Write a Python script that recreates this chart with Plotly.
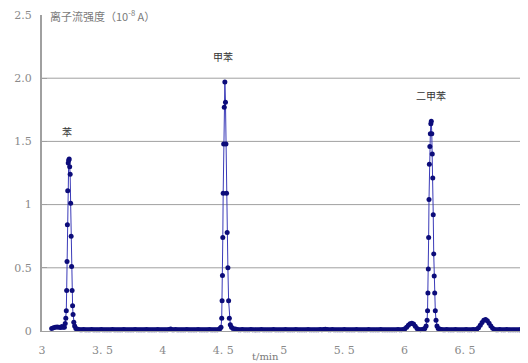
import numpy as np
import plotly.graph_objects as go

# ---- data ----
pre_t = [3.080, 3.095, 3.110, 3.125, 3.140, 3.155, 3.165, 3.175, 3.185]
pre_y = [0.020, 0.025, 0.030, 0.032, 0.030, 0.028, 0.035, 0.030, 0.030]

benz_t = [3.192, 3.197, 3.201, 3.204, 3.207, 3.210, 3.213, 3.217, 3.221, 3.225,
          3.229, 3.233, 3.237, 3.241, 3.245, 3.249, 3.253, 3.257, 3.263, 3.270, 3.280]
benz_y = [0.06, 0.10, 0.16, 0.32, 0.55, 0.84, 1.11, 1.33, 1.35, 1.36,
          1.30, 1.24, 1.01, 0.75, 0.51, 0.32, 0.20, 0.13, 0.07, 0.04, 0.02]

base1_y = [0.015, 0.012, 0.010, 0.010, 0.011, 0.010, 0.009, 0.010, 0.010, 0.011,
           0.010, 0.010, 0.009, 0.010, 0.010, 0.011, 0.010, 0.010, 0.010, 0.009,
           0.010, 0.010, 0.011, 0.010, 0.010, 0.010, 0.009, 0.010, 0.010, 0.011,
           0.010, 0.010, 0.010, 0.009, 0.010, 0.010, 0.011, 0.010, 0.010, 0.010,
           0.009, 0.010, 0.010, 0.011, 0.010, 0.010, 0.010, 0.009, 0.010, 0.010,
           0.011, 0.010, 0.010, 0.010, 0.009, 0.010, 0.010, 0.012, 0.015,
           0.010, 0.010, 0.011, 0.010, 0.010, 0.010, 0.009, 0.010, 0.010, 0.011,
           0.010, 0.010, 0.010, 0.009, 0.010, 0.010, 0.011, 0.010, 0.010, 0.010,
           0.009, 0.010, 0.010, 0.011, 0.010, 0.010, 0.010, 0.009, 0.010, 0.012]
base1_span = [3.290, 4.465]

tol_t = [4.472, 4.481, 4.487, 4.490, 4.493, 4.496, 4.499, 4.503, 4.508, 4.513,
         4.518, 4.522, 4.527, 4.532, 4.538, 4.544, 4.550, 4.558, 4.568, 4.580]
tol_y = [0.02, 0.03, 0.10, 0.24, 0.44, 0.74, 1.09, 1.48, 1.77, 1.97,
         1.81, 1.48, 1.09, 0.78, 0.50, 0.24, 0.10, 0.05, 0.03, 0.02]

base2_y = [0.015, 0.012, 0.010, 0.010, 0.011, 0.010, 0.009, 0.010, 0.010, 0.011,
           0.010, 0.010, 0.009, 0.010, 0.010, 0.011, 0.010, 0.010, 0.010, 0.009,
           0.010, 0.010, 0.011, 0.010, 0.010, 0.010, 0.009, 0.010, 0.010, 0.011,
           0.010, 0.010, 0.009, 0.010, 0.010, 0.011, 0.010, 0.010, 0.010, 0.009,
           0.010, 0.010, 0.011, 0.010, 0.010, 0.010, 0.009, 0.010, 0.010, 0.011,
           0.010, 0.012, 0.013, 0.012, 0.010, 0.010, 0.011, 0.010, 0.010, 0.010,
           0.009, 0.010, 0.010, 0.011, 0.010, 0.010, 0.010, 0.009, 0.010, 0.010,
           0.011, 0.010, 0.010, 0.010, 0.009, 0.010, 0.010, 0.011, 0.010, 0.010,
           0.010, 0.009, 0.010, 0.010, 0.011, 0.010, 0.010, 0.010, 0.009, 0.010,
           0.010, 0.009, 0.010, 0.010, 0.011, 0.010, 0.010, 0.012, 0.018, 0.030,
           0.045, 0.058, 0.062, 0.055, 0.038, 0.020, 0.012, 0.010, 0.012, 0.015]
base2_span = [4.600, 6.160]

xyl_t = [6.167, 6.178, 6.186, 6.190, 6.193, 6.196, 6.199, 6.202, 6.205, 6.209,
         6.213, 6.217, 6.221, 6.225, 6.229, 6.233, 6.237, 6.241, 6.245, 6.249,
         6.254, 6.260, 6.268, 6.278]
xyl_y = [0.02, 0.04, 0.085, 0.16, 0.30, 0.49, 0.74, 1.04, 1.32, 1.46,
         1.56, 1.64, 1.66, 1.56, 1.40, 1.21, 0.92, 0.61, 0.435, 0.30,
         0.16, 0.085, 0.04, 0.02]

base3_y = [0.015, 0.012, 0.010, 0.010, 0.011, 0.010, 0.009, 0.010, 0.010, 0.011,
           0.010, 0.010, 0.009, 0.010, 0.010, 0.011, 0.010, 0.010, 0.010, 0.011,
           0.010, 0.014, 0.025, 0.045, 0.068, 0.085, 0.090, 0.082, 0.062, 0.040,
           0.022, 0.012, 0.010, 0.010, 0.011, 0.010, 0.010, 0.010, 0.011, 0.010,
           0.010, 0.010, 0.010, 0.009, 0.010, 0.010, 0.011, 0.010, 0.010, 0.010,
           0.009, 0.010, 0.010]
base3_span = [6.290, 7.050]

peak_names = ["苯", "甲苯", "二甲苯"]
peak_label_t = [3.21, 4.50, 6.215]
peak_label_y = [1.58, 2.17, 1.86]

y_tickvals = [0, 0.5, 1, 1.5, 2, 2.5]
y_ticktext = ["0", "0.5", "1", "1.5", "2.0", "2.5"]
y_grid = [0.5, 1, 1.5, 2]
x_tickvals = [3, 3.5, 4, 4.5, 5, 5.5, 6, 6.5]
x_ticktext = ["3", "3. 5", "4", "4. 5", "5", "5. 5", "6", "6. 5"]


def grid(span, vals):
    return list(np.round(np.linspace(span[0], span[1], len(vals)), 4))


t = (pre_t + benz_t + grid(base1_span, base1_y) + tol_t
     + grid(base2_span, base2_y) + xyl_t + grid(base3_span, base3_y))
y = pre_y + benz_y + base1_y + tol_y + base2_y + xyl_y + base3_y

fig = go.Figure()
fig.add_trace(go.Scatter(
    x=t, y=y, mode="lines+markers",
    line=dict(color="#3a3ab8", width=1),
    marker=dict(color="#0c0c7a", size=5, symbol="circle"),
    showlegend=False, hoverinfo="skip", cliponaxis=False,
))

for g in y_grid:
    fig.add_shape(type="line", xref="paper", x0=0, x1=1, yref="y", y0=g, y1=g,
                  line=dict(color="#a0a0a0", width=1), layer="below")

for name, px, py in zip(peak_names, peak_label_t, peak_label_y):
    fig.add_annotation(x=px, y=py, text=name, showarrow=False,
                       font=dict(family="Noto Sans CJK SC", size=10, color="#333333"))

fig.add_annotation(xref="paper", yref="paper", x=0.012, y=1.0, xanchor="left",
                   yanchor="middle",
                   text="离子流强度（10<sup>-8</sup> A）", showarrow=False,
                   font=dict(family="Noto Sans CJK SC", size=11, color="#7a7a7a"))
fig.add_annotation(xref="paper", yref="paper", x=0.459, y=-0.082, xanchor="center",
                   yanchor="middle", text="t/min", showarrow=False,
                   font=dict(family="DejaVu Serif", size=10, color="#7a7a7a"))

fig.update_layout(
    width=520, height=355,
    margin=dict(l=34, r=0, t=7, b=32),
    paper_bgcolor="white", plot_bgcolor="white",
    xaxis=dict(range=[3, 7.021], tickvals=x_tickvals, ticktext=x_ticktext,
               showgrid=False, zeroline=False, showline=True, automargin=False,
               linecolor="#a0a0a0", linewidth=1, ticks="",
               ticklabelstandoff=9,
               tickfont=dict(family="DejaVu Serif", size=11, color="#8a8a8a")),
    yaxis=dict(range=[0, 2.5], tickvals=y_tickvals, ticktext=y_ticktext,
               showgrid=False, zeroline=False, showline=True, automargin=False,
               linecolor="#a0a0a0", linewidth=2, ticks="inside", ticklen=5,
               tickcolor="#a0a0a0", ticklabelstandoff=6,
               tickfont=dict(family="DejaVu Serif", size=11, color="#8a8a8a")),
)

fig.write_html("out.html")
